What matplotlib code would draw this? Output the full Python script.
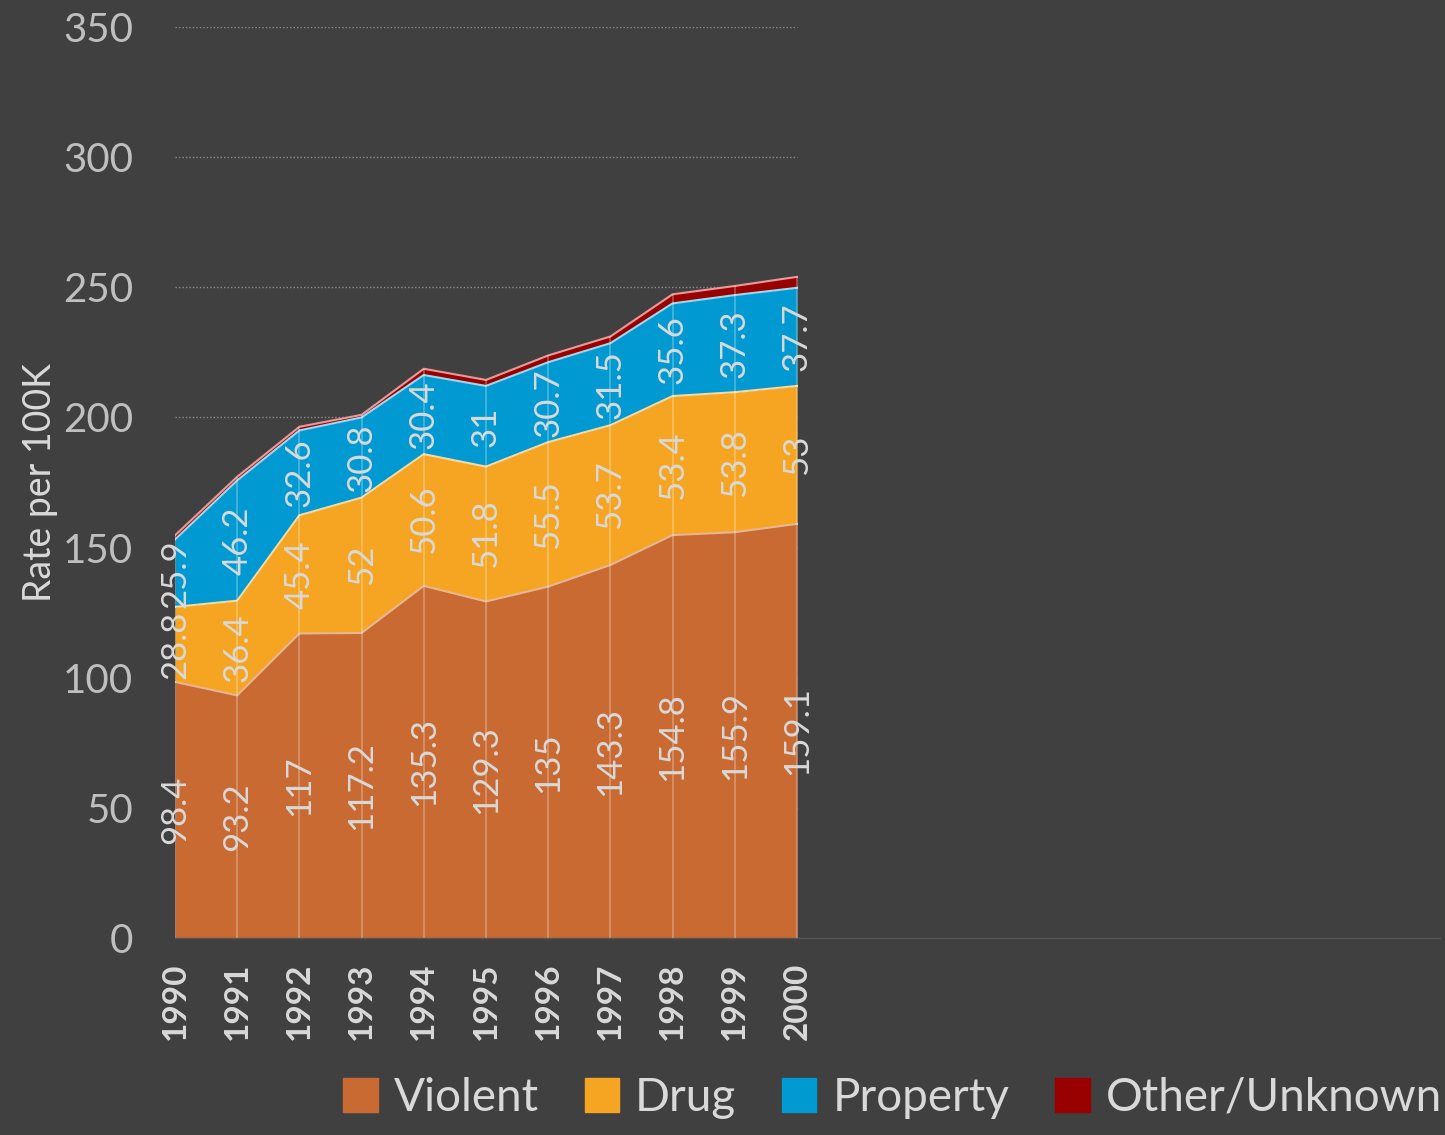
import matplotlib
matplotlib.use("Agg")
import matplotlib.pyplot as plt
from matplotlib.patches import Patch
import numpy as np

years = [1990, 1991, 1992, 1993, 1994, 1995, 1996, 1997, 1998, 1999, 2000]
violent = [98.4, 93.2, 117, 117.2, 135.3, 129.3, 135, 143.3, 154.8, 155.9, 159.1]
drug = [28.8, 36.4, 45.4, 52, 50.6, 51.8, 55.5, 53.7, 53.4, 53.8, 53]
prop = [25.9, 46.2, 32.6, 30.8, 30.4, 31, 30.7, 31.5, 35.6, 37.3, 37.7]
other = [1.6, 1.4, 1.4, 1.0, 2.4, 2.3, 2.6, 2.6, 3.5, 3.5, 4.2]

labels = ["Violent", "Drug", "Property", "Other/Unknown"]
colors = ["#C96A32", "#F5A521", "#0099D1", "#990000"]
edges = ["#E8B597", "#FAD9A0", "#9FD8EE", "#E89A9A"]

bg = "#404040"
txt = "#D9D9D9"
plt.rcParams["font.family"] = ["Lato", "DejaVu Sans"]

fig = plt.figure(figsize=(14.45, 11.35), dpi=100, facecolor=bg)
ax = fig.add_axes([175 / 1445, 197 / 1135, 1265 / 1445, 911 / 1135])
ax.set_facecolor(bg)

x = np.array(years)
series = [np.array(violent), np.array(drug), np.array(prop), np.array(other)]

# dotted gridlines, only over the data span
for yv in [50, 100, 150, 200, 250, 300, 350]:
    ax.plot([x[0], x[-1]], [yv, yv], color="#8C8C8C", lw=1, ls=(0, (1, 1.5)), zorder=1)

base = np.zeros(len(x))
for vals, c, ec in zip(series, colors, edges):
    top = base + vals
    ax.fill_between(x, base, top, color=c, lw=0, zorder=2)
    ax.plot(x, top, color=ec, lw=1.5, zorder=3)
    base = top

# light drop lines at each year
ax.vlines(x, 0, base, color="white", alpha=0.3, lw=1.2, zorder=3)

# value labels in the middle of each segment (first three series)
base = np.zeros(len(x))
for vals in series[:3]:
    for xi, b, v in zip(x, base, vals):
        ax.text(xi, b + v / 2, f"{v:g}", rotation=90, ha="center", va="center",
                color=txt, fontsize=25, zorder=5)
    base = base + vals

ax.set_xlim(1990, 2010.34)
ax.set_ylim(0, 350)
ax.set_yticks(range(0, 351, 50))
ax.set_xticks(years)
ax.set_xticklabels([str(y) for y in years], rotation=90, fontsize=24,
                   fontweight="bold", color=txt)
ax.tick_params(axis="y", length=0, labelsize=29, labelcolor="#BFBFBF", pad=30)
ax.tick_params(axis="x", length=0, pad=18)
for s in ["top", "right", "left"]:
    ax.spines[s].set_visible(False)
ax.spines["bottom"].set_color("#555555")
ax.spines["bottom"].set_linewidth(1)

ax.set_ylabel("Rate per 100K", color=txt, fontsize=27, labelpad=4)

handles = [Patch(facecolor=c, edgecolor=c) for c in colors]
fig.legend(handles, labels, loc="lower right", bbox_to_anchor=(1.02, -0.014),
           ncol=4, frameon=False, fontsize=33, labelcolor=txt, borderaxespad=0.3,
           handlelength=0.75, handleheight=0.75, handletextpad=0.35, columnspacing=1.0)

fig.savefig("out.png", dpi=100, facecolor=bg)
